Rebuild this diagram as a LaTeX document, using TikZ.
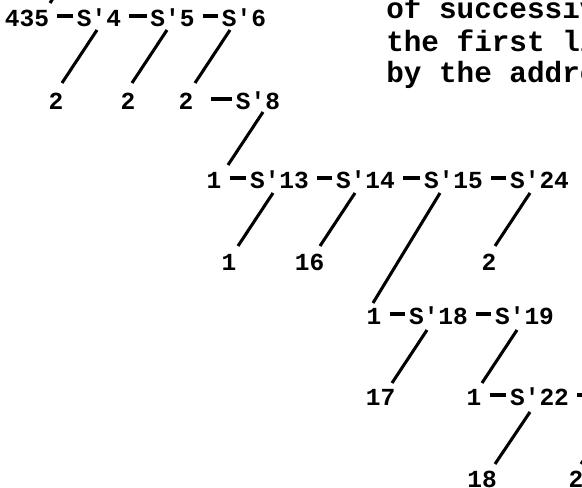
\documentclass[tikz,border=0pt]{standalone}
\usepackage{fontspec}
\setmonofont{Liberation Mono}
\usetikzlibrary{calc}
\tikzset{
  lab/.style={font=\ttfamily\bfseries\fontsize{18.4}{20}\selectfont,inner sep=0pt},
  note/.style={font=\ttfamily\bfseries\fontsize{22}{26}\selectfont,inner sep=0pt,
    anchor=base west},
  link/.style={line width=2.3pt},
  bar/.style={line width=2.4pt,shorten <=6pt,shorten >=2.6pt,
    transform canvas={yshift=1.5pt}}
}

\begin{document}
\begin{tikzpicture}[x=0.75pt,y=-0.75pt]
  \useasboundingbox (0,0) rectangle (582,488);
  \clip (0,0) rectangle (582,488);
  % first row
  \node[lab] (n435) at (27,18) {435};
  \node[lab] (s4) at (99,18) {S'4};
  \node[lab] (s5) at (172.5,18) {S'5};
  \node[lab] (s6) at (244,18) {S'6};
  \draw[bar] (n435) -- (s4);
  \draw[bar] (s4) -- (s5);
  \draw[bar] (s5) -- (s6);
  \coordinate (up) at (85,-50);
  \draw[link] (up) -- ($(n435)+(23,-15)$);
  % second row
  \node[lab] (c4) at (56,101) {2};
  \node[lab] (c5) at (128,101) {2};
  \node[lab] (c6) at (186,101) {2};
  \node[lab] (s8) at (258,101) {S'8};
  \draw[bar,shorten <=13pt] (c6) -- (s8);
  \draw[link] ($(s4)+(-2,12)$) -- ($(c4)+(6,-18)$);
  \draw[link] ($(s5)+(-5.5,12)$) -- ($(c5)+(4,-18)$);
  \draw[link] ($(s6)+(-14,12)$) -- ($(c6)+(9,-18)$);
  % third row
  \node[lab] (n1a) at (214,180) {1};
  \node[lab] (s13) at (279.5,180) {S'13};
  \node[lab] (s14) at (365.5,180) {S'14};
  \node[lab] (s15) at (453.5,180) {S'15};
  \node[lab] (s24) at (539.5,180) {S'24};
  \draw[bar] (n1a) -- (s13);
  \draw[bar] (s13) -- (s14);
  \draw[bar] (s14) -- (s15);
  \draw[bar] (s15) -- (s24);
  \draw[link] ($(s8)+(5,11)$) -- ($(n1a)+(14,-15)$);
  % fourth row
  \node[lab] (c13) at (229,262) {1};
  \node[lab] (c14) at (309.5,262) {16};
  \node[lab] (c24) at (489,262) {2};
  \draw[link] ($(s13)+(-6.5,13)$) -- ($(c13)+(9,-16)$);
  \draw[link] ($(s14)+(-10.5,13)$) -- ($(c14)+(10.5,-16)$);
  \draw[link] ($(s24)+(-9.5,13)$) -- ($(c24)+(6,-16)$);
  % fifth row
  \node[lab] (n1b) at (374,316) {1};
  \node[lab] (s18) at (438.5,316) {S'18};
  \node[lab] (s19) at (524.5,316) {S'19};
  \draw[bar] (n1b) -- (s18);
  \draw[bar] (s18) -- (s19);
  \draw[link] ($(s15)+(-13.5,13)$) -- ($(n1b)+(-1,-13)$);
  % sixth row
  \node[lab] (c18) at (380.5,397) {17};
  \node[lab] (n1c) at (474,397) {1};
  \node[lab] (s22) at (539.5,397) {S'22};
  \coordinate (s22r) at (640,397);
  \draw[bar] (n1c) -- (s22);
  \draw[bar] (s22) -- (s22r);
  \draw[link] ($(s18)+(-11.5,14)$) -- ($(c18)+(11.5,-14)$);
  \draw[link] ($(s19)+(-7.5,14)$) -- ($(n1c)+(8,-14)$);
  % last row
  \node[lab] (c22) at (482,479) {18};
  \node[lab] (c23) at (576,479) {2};
  \coordinate (s23) at (616,412);
  \draw[link] ($(s22)+(-9.5,15)$) -- ($(c22)+(13,-15)$);
  \draw[link] (s23) -- ($(c23)+(5,-15)$);
  % text at the right
  \node[note] (t1) at (386,19) {of successive};
  \node[note] (t2) at (386,52) {the first line};
  \node[note] (t3) at (386,83) {by the address};
\end{tikzpicture}
\end{document}
